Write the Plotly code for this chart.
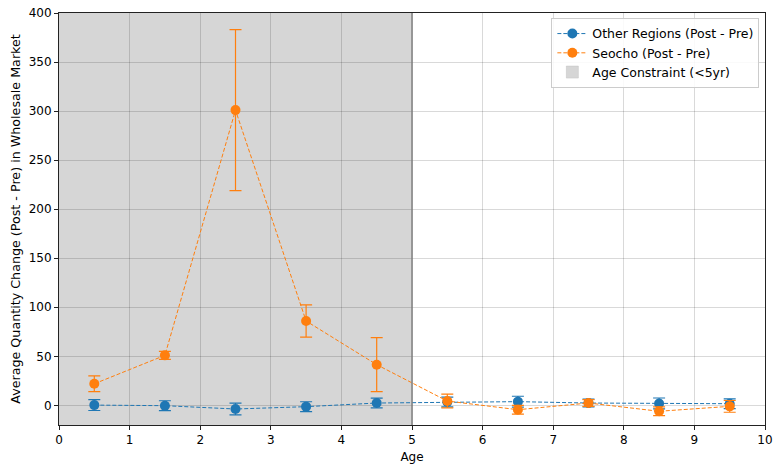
import plotly.graph_objects as go

ages = [0.5, 1.5, 2.5, 3.5, 4.5, 5.5, 6.5, 7.5, 8.5, 9.5]
other_vals = [0.3, -0.3, -3.7, -1.3, 2.4, 3.4, 3.8, 2.4, 2.0, 1.7]
other_err = [5.5, 5.0, 6.0, 5.0, 5.0, 5.0, 5.5, 4.0, 5.5, 5.0]
seocho_vals = [22.0, 51.0, 301.0, 86.0, 41.5, 4.4, -4.4, 2.4, -6.0, -1.0]
seocho_err = [8.0, 4.0, 82.0, 16.5, 27.5, 7.0, 4.5, 3.5, 4.5, 6.0]
constraint_age = 5
y_ticks = [0, 50, 100, 150, 200, 250, 300, 350, 400]
x_ticks = list(range(0, 11))

blue = "#1f77b4"
orange = "#ff7f0e"

fig = go.Figure()

fig.add_shape(type="rect", xref="x", yref="paper", x0=0, x1=constraint_age, y0=0, y1=1,
              fillcolor="#d6d6d6", line_width=0, layer="below")
fig.add_shape(type="line", xref="x", yref="paper", x0=constraint_age, x1=constraint_age, y0=0, y1=1,
              line=dict(color="#808080", width=1.5), layer="above")

fig.add_trace(go.Scatter(
    x=ages, y=other_vals, mode="lines+markers", name="Other Regions (Post - Pre)",
    line=dict(color=blue, width=1, dash="4px,2px"),
    marker=dict(color=blue, size=10),
    error_y=dict(type="data", array=other_err, color=blue, thickness=1.2, width=6),
))
fig.add_trace(go.Scatter(
    x=ages, y=seocho_vals, mode="lines+markers", name="Seocho (Post - Pre)",
    line=dict(color=orange, width=1, dash="4px,2px"),
    marker=dict(color=orange, size=10),
    error_y=dict(type="data", array=seocho_err, color=orange, thickness=1.2, width=6),
))
fig.add_trace(go.Scatter(
    x=[None], y=[None], mode="markers", name="Age Constraint (<5yr)",
    marker=dict(symbol="square", size=12, color="#d6d6d6", line=dict(color="#c0c0c0", width=0.5)),
))

axis_common = dict(showline=True, linecolor="#222222", linewidth=1, mirror=True,
                   showgrid=True, gridcolor="rgba(0,0,0,0.15)", gridwidth=1,
                   ticks="outside", ticklen=4, tickcolor="#222222", zeroline=False,
                   automargin=False,
                   tickfont=dict(size=12, color="black"))

fig.update_xaxes(range=[0, 10], tickvals=x_ticks, title=dict(text="Age", font=dict(size=12), standoff=6), **axis_common)
fig.update_yaxes(range=[-20, 400], tickvals=y_ticks,
                 title=dict(text="Average Quantity Change (Post - Pre) in Wholesale Market", font=dict(size=12.7), standoff=5),
                 **axis_common)

fig.update_layout(
    width=774, height=464,
    margin=dict(l=59, r=9, t=13, b=39),
    plot_bgcolor="white", paper_bgcolor="white",
    font=dict(family="DejaVu Sans", size=12, color="black"),
    legend=dict(x=0.992, y=0.988, xanchor="right", yanchor="top",
                bgcolor="rgba(255,255,255,0.85)", bordercolor="#cccccc", borderwidth=1,
                font=dict(size=12.5), itemwidth=30, tracegroupgap=0),
    showlegend=True,
)

fig.write_html("out.html")
